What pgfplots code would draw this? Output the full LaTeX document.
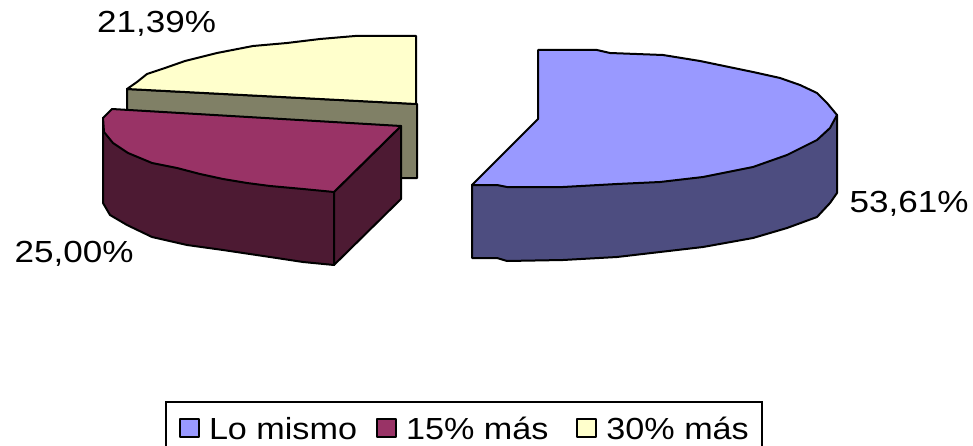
\documentclass[border=0pt]{standalone}
\usepackage{fontspec}
\setmainfont[FakeStretch=1.15]{Liberation Sans}
\newfontfamily\legendfont[FakeStretch=1.12]{Liberation Sans}
\usepackage{pgfplots}
\pgfplotsset{compat=1.18}
\definecolor{blueTop}{HTML}{9999FF}
\definecolor{blueSide}{HTML}{4D4D80}
\definecolor{redTop}{HTML}{993366}
\definecolor{redSide}{HTML}{4D1A33}
\definecolor{yellowTop}{HTML}{FFFFCC}
\definecolor{yellowSide}{HTML}{808066}
\begin{document}
\begin{tikzpicture}
  \path[use as bounding box] (0,0) rectangle (973pt,446pt);
  \begin{axis}[
      at={(0,0)}, anchor=south west,
      scale only axis, width=973pt, height=446pt,
      xmin=0, xmax=973, ymin=0, ymax=446, y dir=reverse,
      hide axis, clip=false,
      every axis plot/.append style={draw=black, line width=2pt, line join=round, forget plot},
      legend columns=3,
      legend cell align=left,
      legend style={at={(axis cs:165,400.5)}, anchor=north west, draw=black, line width=2pt,
        font=\legendfont\fontsize{30.5}{34}\selectfont, inner xsep=13pt, inner ysep=15pt,
        /tikz/every even column/.style={column sep=19pt},
        /tikz/every odd column/.style={column sep=9pt},
        nodes={inner xsep=0pt, inner ysep=1pt}},
      legend image code/.code={\draw[#1, line width=2pt] (1pt,-8pt) rectangle (20pt,10pt);},
    ]
    \addlegendimage{fill=blueTop}
    \addlegendentry{Lo mismo}
    \addlegendimage{fill=redTop}
    \addlegendentry{15\% más\hspace*{9pt}}
    \addlegendimage{fill=yellowTop}
    \addlegendentry{30\% más}

    % 30% mas, cut face then top
    \addplot[fill=yellowSide] coordinates {(127,89)(417,104)(417,178)(402,178)(127,178)} -- cycle;
    \addplot[fill=yellowTop] coordinates {(416,36)(355,36)(320,39)(287,43)(253,46)(217,53)(185,61)(165,68)(147,74)(137,82)(127,89)(416,104)} -- cycle;

    % 15% mas, outer wall, cut face, top
    \addplot[fill=redSide] coordinates {(103,118)(103,203)(110,215)(127,225)(152,237)(187,245)(223,250)(270,257)(303,262)(334,265)(334,192)} -- cycle;
    \addplot[fill=redSide] coordinates {(334,192)(401,126)(401,199)(334,265)} -- cycle;
    \addplot[fill=redTop] coordinates {(112,109)(401,126)(334,192)(303,189)(270,186)(247,183)(223,179)(200,174)(177,168)(152,163)(128,153)(113,143)(104,132)(103,118)} -- cycle;

    % lo mismo
    \addplot[fill=blueSide] coordinates {(472,185)(472,258)(497,258)(507,261)(563,260)(617,257)(660,252)(703,247)(753,238)(787,228)(817,217)(830,203)(837,193)(837,115)} -- cycle;
    \addplot[fill=blueTop] coordinates {(538,50)(597,50)(610,53)(663,55)(700,61)(753,72)(780,78)(800,85)(817,93)(827,103)(837,115)(830,128)(817,140)(787,155)(753,167)(703,177)(660,182)(617,184)(563,187)(507,187)(497,185)(472,185)(538,119)} -- cycle;

    \node[font=\fontsize{30.5}{34}\selectfont, anchor=base] at (axis cs:156.5,33) {21,39\%};
    \node[font=\fontsize{30.5}{34}\selectfont, anchor=base] at (axis cs:74,262) {25,00\%};
    \node[font=\fontsize{30.5}{34}\selectfont, anchor=base] at (axis cs:909,212) {53,61\%};
  \end{axis}
\end{tikzpicture}
\end{document}
